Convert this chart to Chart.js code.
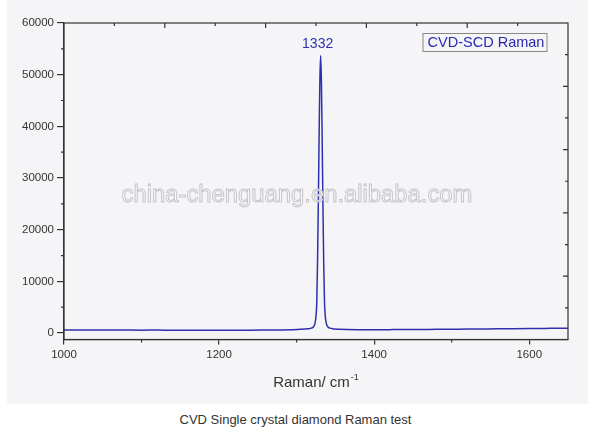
<!DOCTYPE html>
<html>
<head>
<meta charset="utf-8">
<script src="https://cdn.jsdelivr.net/npm/chart.js@4.4.1/dist/chart.umd.min.js"></script>
<style>
  html, body { margin: 0; padding: 0; background: #ffffff; width: 591px; height: 438px; overflow: hidden; }
  #panel { position: absolute; left: 7px; top: 0; width: 581px; height: 404px; background: #f5f5f7; }
  #caption { position: absolute; left: 0; top: 412px; width: 591px; text-align: center;
             font-family: "Liberation Sans", Arial, sans-serif; font-size: 13px; color: #333; }
</style>
</head>
<body>
<div id="panel"><canvas id="c" width="581" height="404"></canvas></div>
<div id="caption">CVD Single crystal diamond Raman test</div>
<script>
// ---- data ----
const ramanShift = [1000,1020,1040,1060,1080,1100,1120,1140,1160,1180,1200,1220,1240,1260,1280,1295,1305,1312,1316,1319,1321,1323,1324,1325,1326,1327,1328,1329,1330,1331,1332,1333,1334,1335,1336,1337,1338,1339,1341,1343,1346,1350,1356,1365,1380,1400,1420,1440,1460,1480,1500,1520,1540,1560,1580,1600,1620,1640,1650];
const intensity  = [600,590,610,580,570,560,575,550,560,545,550,560,555,580,610,660,720,800,850,950,1100,1500,2100,3300,6000,14000,25000,38000,49000,53700,48500,37000,24000,13000,5800,3200,2100,1500,1100,950,850,780,720,680,650,640,660,680,690,720,740,770,790,810,840,870,900,930,950];
const xTicks = [1000, 1200, 1400, 1600];
const yTicks = [0, 10000, 20000, 30000, 40000, 50000, 60000];
const seriesName = "CVD-SCD Raman";
const peakLabel = "1332";
const peakPosition = 1331;
const peakValue = 53700;
const xTitle = "Raman/ cm";
const xTitleSup = "-1";
const watermark = "china-chenguang.en.alibaba.com";

const FONT = '"Liberation Sans", Arial, sans-serif';
const AXIS = '#333333';
const LINE = '#3030ac';

const points = ramanShift.map((x, i) => ({ x: x, y: intensity[i] }));

const decor = {
  id: 'decor',
  afterDatasetsDraw(chart) {
    const ctx = chart.ctx;
    ctx.save();
    ctx.font = '20px ' + FONT;
    const w0 = ctx.measureText(watermark).width;
    const size = 20 * 351 / w0;
    ctx.font = size + 'px ' + FONT;
    ctx.textAlign = 'center';
    ctx.textBaseline = 'middle';
    ctx.fillStyle = 'rgba(250,250,252,0.9)';
    ctx.strokeStyle = '#c6c6ca';
    ctx.lineWidth = 1;
    const cx = 290, cy = 195;
    ctx.fillText(watermark, cx, cy);
    ctx.strokeText(watermark, cx, cy);
    ctx.restore();
  },
  afterDraw(chart) {
    const ctx = chart.ctx, a = chart.chartArea;
    const xs = chart.scales.x, ys = chart.scales.y;
    ctx.save();
    ctx.strokeStyle = AXIS;
    ctx.lineWidth = 1.2;
    ctx.strokeRect(a.left, a.top, a.right - a.left, a.bottom - a.top);
    ctx.beginPath();
    for (let v = 1100; v < 1650; v += 200) {
      const px = xs.getPixelForValue(v);
      ctx.moveTo(px, a.bottom); ctx.lineTo(px, a.bottom + 3);
    }
    for (let v = 5000; v < 60000; v += 10000) {
      const py = ys.getPixelForValue(v);
      ctx.moveTo(a.left, py); ctx.lineTo(a.left - 3, py);
    }
    for (let i = 1; i < 10; i++) {
      const px = a.left + (a.right - a.left) * i / 10;
      const len = i % 2 === 0 ? 5 : 3;
      ctx.moveTo(px, a.top); ctx.lineTo(px, a.top + len);
      const py = a.top + (a.bottom - a.top) * i / 10;
      ctx.moveTo(a.right, py); ctx.lineTo(a.right - len, py);
    }
    ctx.stroke();

    ctx.fillStyle = LINE;
    ctx.font = '14px ' + FONT;
    ctx.textAlign = 'center';
    ctx.textBaseline = 'middle';
    ctx.fillText(peakLabel, xs.getPixelForValue(peakPosition) - 3, ys.getPixelForValue(peakValue) - 11);

    ctx.font = '14.5px ' + FONT;
    const tw = ctx.measureText(seriesName).width;
    const bx = 416, by = 33.5, bw = 124, bh = 18;
    ctx.strokeStyle = '#888';
    ctx.lineWidth = 1;
    ctx.strokeRect(bx, by, bw, bh);
    ctx.fillStyle = '#2a2ab0';
    ctx.textAlign = 'left';
    ctx.fillText(seriesName, bx + (bw - tw) / 2 + 1, by + bh / 2 + 0.5);

    ctx.fillStyle = '#333';
    ctx.font = '15px ' + FONT;
    const t1 = ctx.measureText(xTitle).width;
    ctx.font = '9px ' + FONT;
    const t2 = ctx.measureText(xTitleSup).width;
    const tx = (a.left + a.right) / 2 - (t1 + t2 + 1) / 2;
    ctx.textBaseline = 'alphabetic';
    ctx.font = '15px ' + FONT;
    ctx.fillText(xTitle, tx, 387);
    ctx.font = '9px ' + FONT;
    ctx.fillText(xTitleSup, tx + t1 + 1, 380);
    ctx.restore();
  }
};

new Chart(document.getElementById('c'), {
  type: 'line',
  data: {
    datasets: [{
      label: seriesName,
      data: points,
      borderColor: LINE,
      borderWidth: 1.5,
      pointRadius: 0,
      fill: false,
      cubicInterpolationMode: 'monotone'
    }]
  },
  options: {
    responsive: false,
    animation: false,
    events: [],
    layout: { padding: { top: 23, right: 20, left: 0, bottom: 0 } },
    plugins: { legend: { display: false }, tooltip: { enabled: false } },
    scales: {
      x: {
        type: 'linear',
        min: 1000, max: 1650,
        afterFit(s) { s.height = 64.5; },
        afterBuildTicks(s) { s.ticks = xTicks.map(v => ({ value: v })); },
        ticks: { color: '#333', font: { family: FONT, size: 11.5 }, padding: 3, maxRotation: 0,
                 callback: v => String(v) },
        grid: { drawOnChartArea: false, drawTicks: true, tickLength: 5, color: AXIS, lineWidth: 1.2 },
        border: { display: true, color: AXIS, width: 1.2 }
      },
      y: {
        type: 'linear',
        min: -1250, max: 60000,
        afterFit(s) { s.width = 57; },
        afterBuildTicks(s) { s.ticks = yTicks.map(v => ({ value: v })); },
        ticks: { color: '#333', font: { family: FONT, size: 11.5 }, padding: 3,
                 callback: v => String(v) },
        grid: { drawOnChartArea: false, drawTicks: true, tickLength: 7, color: AXIS, lineWidth: 1.2 },
        border: { display: true, color: AXIS, width: 1.2 }
      }
    }
  },
  plugins: [decor]
});
</script>
</body>
</html>
